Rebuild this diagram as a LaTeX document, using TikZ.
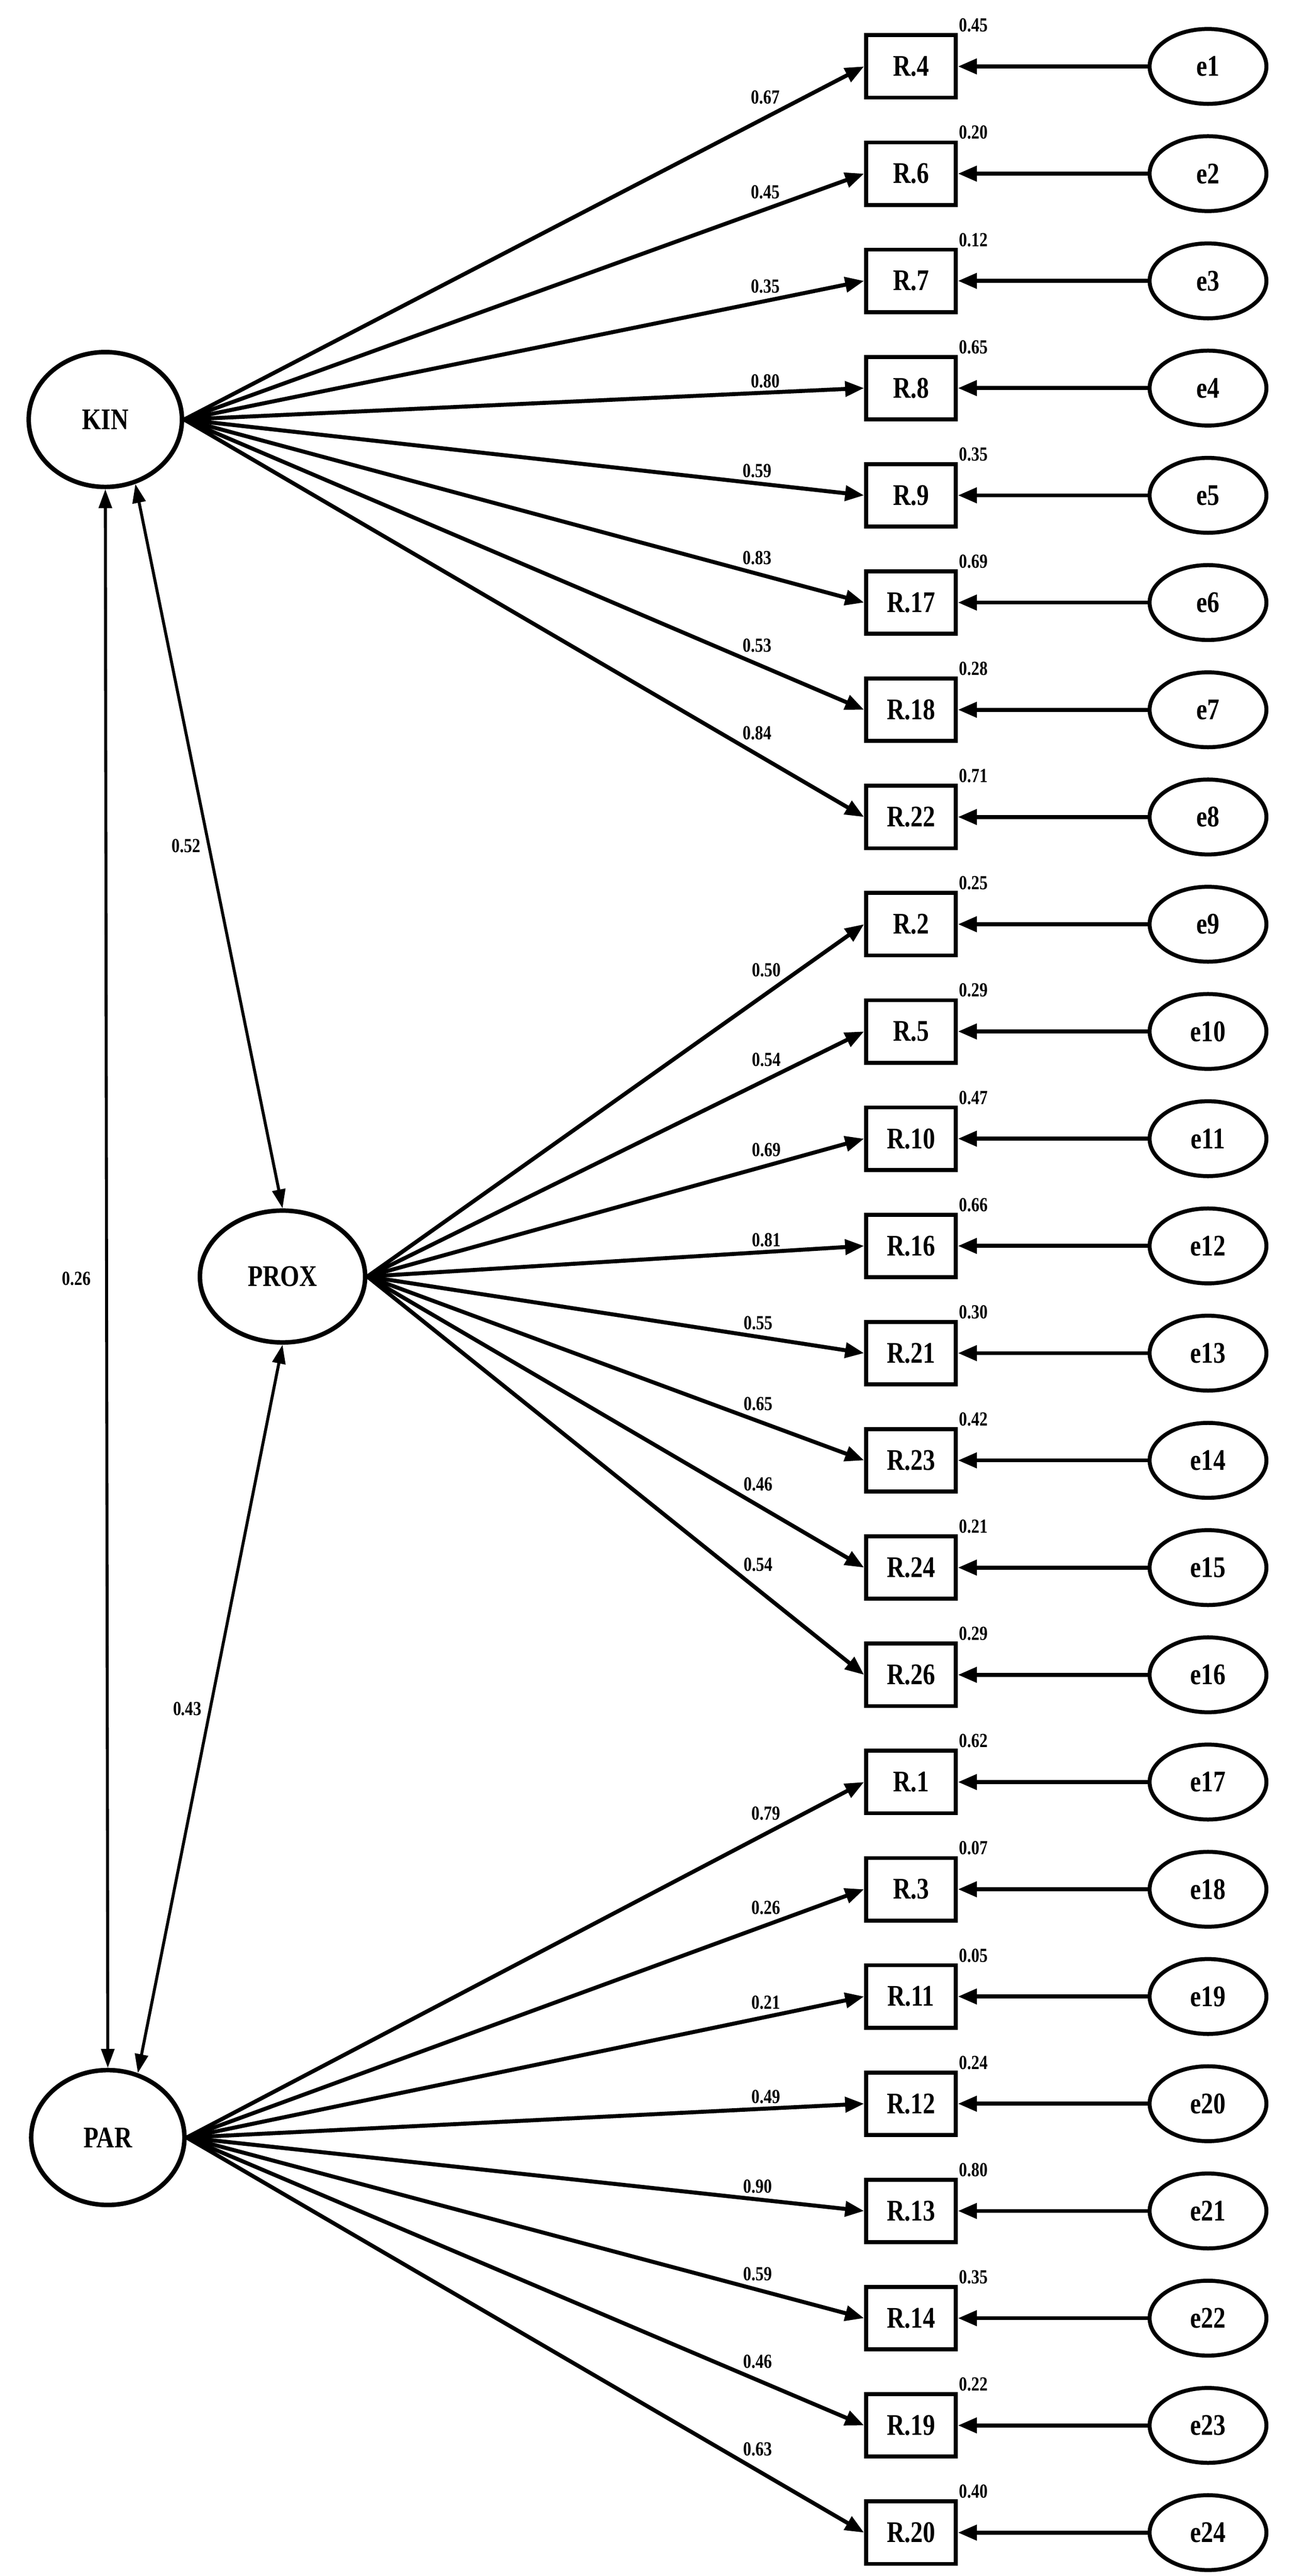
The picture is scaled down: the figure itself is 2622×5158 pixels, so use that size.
\documentclass[tikz,border=0pt]{standalone}
\usepackage{fontspec}
\setmainfont{Liberation Serif}[FakeStretch=0.82]
\usetikzlibrary{arrows.meta,shapes.geometric}
\begin{document}
\begin{tikzpicture}[x=1pt,y=-1pt,
  lat/.style={draw,ellipse,line width=9pt,minimum width=307pt,minimum height=270pt,inner sep=0pt,font=\fontsize{60}{60}\selectfont\bfseries},
  obs/.style={draw,rectangle,line width=8pt,minimum width=180pt,minimum height=125pt,inner sep=0pt,font=\fontsize{60}{60}\selectfont\bfseries},
  err/.style={draw,ellipse,line width=8pt,minimum width=234pt,minimum height=150pt,inner sep=0pt,font=\fontsize{60}{60}\selectfont\bfseries},
  arr/.style={line width=8pt,-{Triangle[length=38pt,width=30pt]}},
  dbl/.style={line width=6pt,{Triangle[length=38pt,width=26pt]}-{Triangle[length=38pt,width=26pt]}},
  lab/.style={font=\fontsize{40}{40}\selectfont\bfseries,inner sep=4pt}]
\useasboundingbox (0,0) rectangle (2622,5158);
\node[lat] (KIN) at (211,840) {KIN};
\node[lat,minimum width=331pt,minimum height=264pt] (PROX) at (566,2556) {PROX};
\node[lat] (PAR) at (216,4280) {PAR};
\foreach \lbl/\ld/\vr [count=\i] in {R.4/0.67/0.45,R.6/0.45/0.20,R.7/0.35/0.12,R.8/0.80/0.65,R.9/0.59/0.35,R.17/0.83/0.69,R.18/0.53/0.28,R.22/0.84/0.71,R.2/0.50/0.25,R.5/0.54/0.29,R.10/0.69/0.47,R.16/0.81/0.66,R.21/0.55/0.30,R.23/0.65/0.42,R.24/0.46/0.21,R.26/0.54/0.29,R.1/0.79/0.62,R.3/0.26/0.07,R.11/0.21/0.05,R.12/0.49/0.24,R.13/0.90/0.80,R.14/0.59/0.35,R.19/0.46/0.22,R.20/0.63/0.40}{
  \pgfmathsetmacro\yy{133+(\i-1)*214.7}
  \node[obs] (r\i) at (1825,\yy) {\lbl};
  \node[err] (e\i) at (2420,\yy) {e\i};
  \node[lab,anchor=south west,inner sep=2pt] at (r\i.north east) {\vr};
  \draw[arr] (e\i) -- (r\i);
  \ifnum\i<9 \def\src{KIN}\ifnum\i<5 \def\tpos{0.882}\def\anc{south east}\else\def\tpos{0.816}\def\anc{south west}\fi
  \else\ifnum\i<17 \def\src{PROX}\ifnum\i<13 \def\tpos{0.84}\def\anc{south east}\else\def\tpos{0.75}\def\anc{south west}\fi
  \else\def\src{PAR}\ifnum\i<21 \def\tpos{0.882}\def\anc{south east}\else\def\tpos{0.816}\def\anc{south west}\fi\fi\fi
  \draw[arr] (\src.east) -- (r\i.west) node[lab,pos=\tpos,anchor=\anc] {\ld};
}
\draw[dbl] (KIN.south) -- (PAR.north) node[lab,midway,left=25pt] {0.26};
\draw[dbl] (KIN.-65) -- (PROX.north) node[lab,midway,left=10pt] {0.52};
\draw[dbl] (PROX.south) -- (PAR.65) node[lab,midway,left=10pt] {0.43};
\end{tikzpicture}
\end{document}
